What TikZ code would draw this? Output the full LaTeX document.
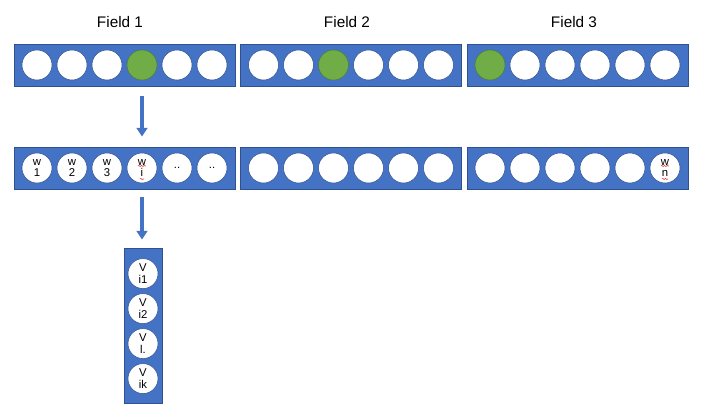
\documentclass[tikz,border=0pt]{standalone}
\usepackage{fontspec}
\setmainfont{Liberation Sans}
\usetikzlibrary{arrows.meta, positioning, calc, decorations.pathmorphing}
\definecolor{fieldBlue}{RGB}{68, 114, 196}
\definecolor{fieldEdge}{RGB}{47, 82, 143}
\definecolor{hotGreen}{RGB}{112, 173, 71}
\definecolor{hotEdge}{RGB}{80, 126, 50}
\definecolor{squiggleRed}{RGB}{235, 60, 60}

\begin{document}
\begin{tikzpicture}[
        x=0.75pt, y=-0.75pt,
        field/.style={rectangle, draw=fieldEdge, fill=fieldBlue, minimum width=165.75pt, minimum height=31.5pt, inner sep=0pt, line width=0.6pt},
        column/.style={field, minimum width=28.5pt, minimum height=116.25pt},
        slot/.style={circle, draw=fieldEdge, fill=white, minimum size=22.5pt, inner sep=0pt, align=center, line width=0.4pt, font=\fontsize{8.5}{8.5}\selectfont},
        hot/.style={slot, draw=hotEdge, fill=hotGreen},
        title/.style={font=\fontsize{11.5}{13}\selectfont},
        line/.style={draw=fieldBlue, line width=2.4pt, -{Triangle[length=6.5pt, width=8pt]}},
        wavy/.style={draw=squiggleRed, line width=0.4pt, decorate, decoration={snake, amplitude=0.5pt, segment length=2pt}}
    ]
    \useasboundingbox (0,0) rectangle (707,416);

    % Titles
    \node (t1) [title] at (120,22) {Field 1};
    \node (t2) [title] at (347,22) {Field 2};
    \node (t3) [title] at (574,22) {Field 3};

    % Fields
    \node (f1) [field] at (124.5,65) {};
    \node (f2) [field] at (351,65) {};
    \node (f3) [field] at (577.5,65) {};
    \node (w1) [field] at (124.5,168) {};
    \node (w2) [field] at (351,168) {};
    \node (w3) [field] at (577.5,168) {};
    \node (v) [column] at (143,325.5) {};

    % One-hot slots
    \foreach \k/\s in {1/slot, 2/slot, 3/slot, 4/hot, 5/slot, 6/slot}
        \node (f1c\k) [\s] at ($(f1)+(\k*35-122.5,0)$) {};
    \foreach \k/\s in {1/slot, 2/slot, 3/hot, 4/slot, 5/slot, 6/slot}
        \node (f2c\k) [\s] at ($(f2)+(\k*35-122.5,0)$) {};
    \foreach \k/\s in {1/hot, 2/slot, 3/slot, 4/slot, 5/slot, 6/slot}
        \node (f3c\k) [\s] at ($(f3)+(\k*35-122.5,0)$) {};

    % Weight slots
    \foreach \k/\t in {1/{w\\1}, 2/{w\\2}, 3/{w\\3}, 4/{w\\i}, 5/{..}, 6/{..}}
        \node (w1c\k) [slot] at ($(w1)+(\k*35-122.5,0)$) {\t};
    \foreach \k in {1,...,6}
        \node (w2c\k) [slot] at ($(w2)+(\k*35-122.5,0)$) {};
    \foreach \k/\t in {1/{}, 2/{}, 3/{}, 4/{}, 5/{}, 6/{w\\n}}
        \node (w3c\k) [slot] at ($(w3)+(\k*35-122.5,0)$) {\t};

    % Spell-check marks
    \draw [wavy] ($(w1c4)+(-4,-2)$) -- ++(8,0);
    \draw [wavy] ($(w1c4)+(-2,11)$) -- ++(4,0);
    \draw [wavy] ($(w3c6)+(-4,-2)$) -- ++(8,0);
    \draw [wavy] ($(w3c6)+(-3,11)$) -- ++(6,0);

    % Embedding column
    \foreach \k/\t in {1/{V\\i1}, 2/{V\\i2}, 3/{V\\l.}, 4/{V\\ik}}
        \node (v\k) [slot] at ($(v.north)+(0,\k*35-9)$) {\t};

    % Connectors
    \path [line, shorten <=7pt, shorten >=7.5pt] (f1.south -| f1c4) -- (w1.north -| f1c4);
    \path [line, shorten <=6pt, shorten >=6pt] (w1.south -| w1c4) -- (v.north -| w1c4);
\end{tikzpicture}
\end{document}
